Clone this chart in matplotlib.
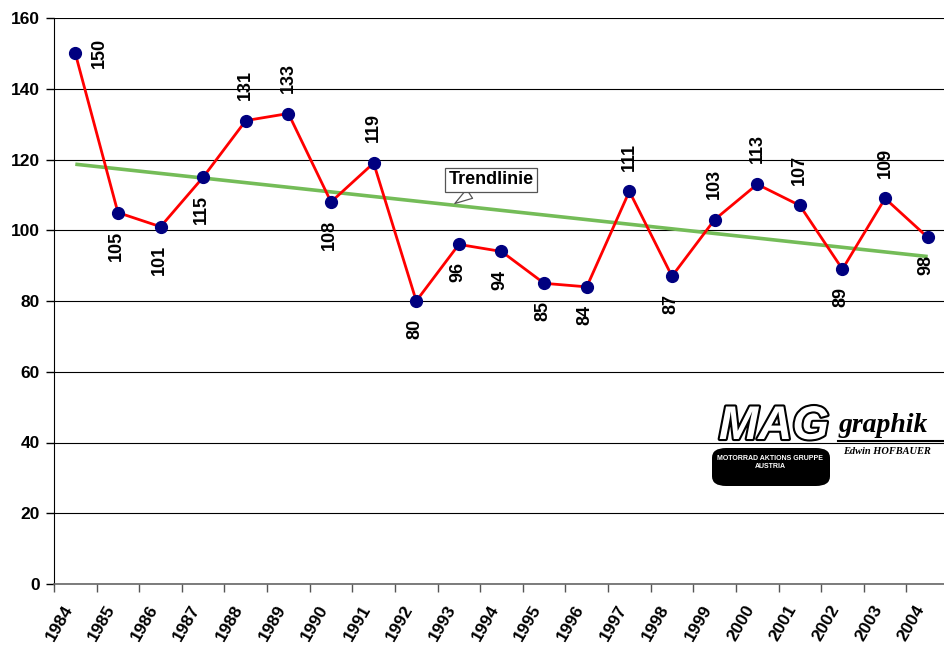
import matplotlib
matplotlib.use("Agg")
import matplotlib.pyplot as plt
import matplotlib.patheffects as pe
from matplotlib.patches import FancyBboxPatch
import numpy as np

years = [str(y) for y in range(1984, 2005)]
values = [150, 105, 101, 115, 131, 133, 108, 119, 80, 96, 94, 85, 84, 111, 87, 103, 113, 107, 89, 109, 98]
label_pos = ['right', 'below', 'below', 'below', 'above', 'above', 'below', 'above', 'below', 'below',
             'below', 'below', 'below', 'above', 'below', 'above', 'above', 'above', 'below', 'above', 'below']
yticks = [0, 20, 40, 60, 80, 100, 120, 140, 160]

plt.rcParams['font.family'] = ['Liberation Sans', 'DejaVu Sans']

fig = plt.figure(figsize=(9.44, 6.46), dpi=100)
ax = fig.add_axes([54/944, 1-584/646, 895/944, 566/646])

x = np.arange(len(years))
# trend line (least squares)
coef = np.polyfit(x, values, 1)
ax.plot(x, np.polyval(coef, x), color='#74bc58', lw=2.6, zorder=2, solid_capstyle='butt')

ax.plot(x, values, color='#ff0000', lw=2.0, zorder=3,
        marker='o', markersize=8.5, markerfacecolor='#000080', markeredgecolor='#000080')

for xi, v, p in zip(x, values, label_pos):
    if p == 'above':
        ax.annotate(str(v), (xi, v), xytext=(0, 15), textcoords='offset points',
                    rotation=90, ha='center', va='bottom', fontsize=13, fontweight='bold')
    elif p == 'below':
        ax.annotate(str(v), (xi, v), xytext=(-1, -13), textcoords='offset points',
                    rotation=90, ha='center', va='top', fontsize=13, fontweight='bold')
    else:
        ax.annotate(str(v), (xi, v), xytext=(11, 0), textcoords='offset points',
                    rotation=90, ha='left', va='center', fontsize=13, fontweight='bold')

ax.set_xlim(-0.5, len(years) - 0.5)
ax.set_ylim(0, 160)
ax.set_yticks(yticks)
ax.set_yticklabels([str(t) for t in yticks], fontsize=12.5, fontweight='bold')
ax.yaxis.grid(True, color='black', lw=0.8)
ax.set_axisbelow(True)

ax.set_xticks(x)
ax.set_xticklabels(years, rotation=60, ha='right', va='bottom', rotation_mode='anchor',
                   fontsize=12.5, fontweight='bold')
ax.set_xticks(np.arange(-0.5, len(years), 1), minor=True)
ax.tick_params(axis='x', which='major', length=0, pad=19)
ax.tick_params(axis='x', which='minor', length=6, width=1, color='#555555')
ax.tick_params(axis='y', length=6, width=1, pad=4)

for s in ['top', 'right']:
    ax.spines[s].set_visible(False)
ax.spines['left'].set_color('black')
ax.spines['bottom'].set_color('#666666')
ax.spines['bottom'].set_linewidth(1.2)

# callout
ax.annotate('Trendlinie', xy=(8.85, np.polyval(coef, 8.85)), xytext=(9.75, 114.3),
            fontsize=13, fontweight='bold', ha='center', va='center',
            bbox=dict(boxstyle='square,pad=0.2', fc='white', ec='#555555', lw=0.9),
            arrowprops=dict(arrowstyle='wedge,tail_width=0.6', fc='white', ec='#555555', lw=0.9),
            zorder=5)

# logo
brush = FancyBboxPatch((712/944, 1-486/646), 118/944, 38/646, boxstyle='round,pad=0.0,rounding_size=0.015',
                       transform=fig.transFigure, fc='black', ec='none', zorder=6)
fig.patches.append(brush)
fig.text(770/944, 1-458/646, 'MOTORRAD AKTIONS GRUPPE', color='white', fontsize=5, fontweight='bold',
         ha='center', va='center', zorder=7)
fig.text(770/944, 1-466/646, 'AUSTRIA', color='white', fontsize=5, fontweight='bold',
         ha='center', va='center', zorder=7)
t = fig.text(774/944, 1-427/646, 'MAG', color='white', fontsize=34, fontweight='bold', style='italic',
             ha='center', va='center', zorder=8)
t.set_path_effects([pe.withStroke(linewidth=3, foreground='black')])
fig.text(839/944, 1-426/646, 'graphik', color='black', fontsize=20, fontweight='bold', style='italic',
         family='Liberation Serif', ha='left', va='center', zorder=8)
fig.add_artist(plt.Line2D([838/944, 944/944], [1-441/646, 1-441/646], color='black', lw=1.5,
                          transform=fig.transFigure))
fig.text(843/944, 1-451/646, 'Edwin HOFBAUER', color='black', fontsize=7.5, fontweight='bold', style='italic',
         family='Liberation Serif', ha='left', va='center', zorder=8)

fig.savefig('out.png', dpi=100)
